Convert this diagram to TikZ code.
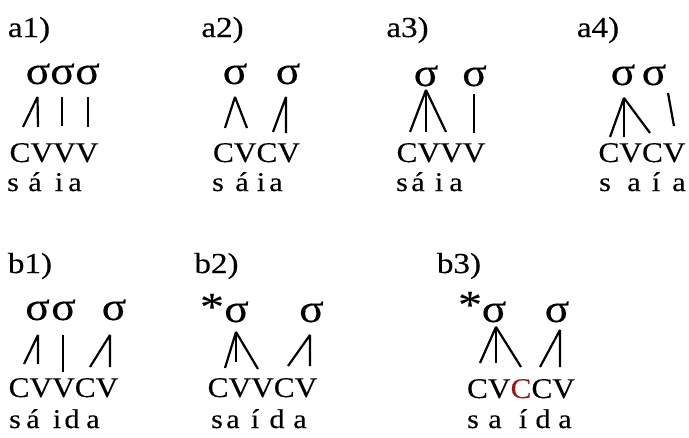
\documentclass[tikz,border=0pt]{standalone}
\usepackage{fontspec}
\setmainfont{Liberation Serif}[FakeBold=0.25]
\definecolor{segred}{RGB}{150,25,25}
\newcommand\hstr[2]{\scalebox{#1}[1]{#2}}
\tikzset{
  lab/.style={anchor=base,inner sep=0pt,font=\fontsize{29}{30}\selectfont},
  sig/.style={anchor=base,inner sep=0pt,font=\fontsize{40}{42}\selectfont},
  seg/.style={anchor=base,inner sep=0pt,font=\fontsize{28.5}{30}\selectfont},
  sa/.style={anchor=base,inner sep=0pt,font=\fontsize{27}{28}\selectfont},
  assoc/.style={line width=2.2pt,line join=bevel},
}
\begin{document}
\begin{tikzpicture}[x=1pt,y=-1pt]
\useasboundingbox (0,0) rectangle (689,437);
% ---------- labels
\node[lab] (la1) at (29,37) {\hstr{1.14}{a1)}};
\node[lab] (la2) at (222.5,37) {\hstr{1.14}{a2)}};
\node[lab] (la3) at (407.5,37) {\hstr{1.14}{a3)}};
\node[lab] (la4) at (598,37) {\hstr{1.14}{a4)}};
\node[lab] (lb1) at (30,273) {\hstr{1.14}{b1)}};
\node[lab] (lb2) at (216.5,273) {\hstr{1.14}{b2)}};
\node[lab] (lb3) at (459,273) {\hstr{1.14}{b3)}};
% ---------- sigmas
\node[sig] (a1s1) at (38,84) {\hstr{1.14}{σ}};
\node[sig] (a1s2) at (62.5,84) {\hstr{1.14}{σ}};
\node[sig] (a1s3) at (87.5,84) {\hstr{1.14}{σ}};
\node[sig] (a2s1) at (235,84) {\hstr{1.14}{σ}};
\node[sig] (a2s2) at (288,84) {\hstr{1.14}{σ}};
\node[sig] (a3s1) at (426,86) {\hstr{1.14}{σ}};
\node[sig] (a3s2) at (474.5,86) {\hstr{1.14}{σ}};
\node[sig] (a4s1) at (623,85) {\hstr{1.14}{σ}};
\node[sig] (a4s2) at (654,85) {\hstr{1.14}{σ}};
\node[sig] (b1s1) at (37.5,320) {\hstr{1.14}{σ}};
\node[sig] (b1s2) at (63.5,320) {\hstr{1.14}{σ}};
\node[sig] (b1s3) at (114,320) {\hstr{1.14}{σ}};
\node[sig] (b2s1) at (236.5,322) {\hstr{1.14}{σ}};
\node[sig] (b2s2) at (311.5,322) {\hstr{1.14}{σ}};
\node[sig] (b3s1) at (494,322) {\hstr{1.14}{σ}};
\node[sig] (b3s2) at (557,322) {\hstr{1.14}{σ}};
\node[sig] (b2ast) at (212,320) {\hstr{1.2}{*}};
\node[sig] (b3ast) at (470,318) {\hstr{1.2}{*}};
% ---------- segment strings
\node[seg] (a1cv) at (54,162) {\hstr{1.1}{CVVV}};
\node[seg] (a2cv) at (256.5,162) {\hstr{1.1}{CVCV}};
\node[seg] (a3cv) at (441,162) {\hstr{1.1}{CVVV}};
\node[seg] (a4cv) at (642,162) {\hstr{1.1}{CVCV}};
\node[seg] (b1cv) at (63.5,397) {\hstr{1.1}{CVVCV}};
\node[seg] (b2cv) at (262.5,397) {\hstr{1.1}{CVVCV}};
\node[seg] (b3cv) at (521,398) {\hstr{1.1}{CV\textcolor{segred}{C}CV}};
% ---------- spelled words
\foreach \x/\t [count=\i] in {13/s,35/á,59/i,75/a}
  \node[sa] (a1w\i) at (\x,191) {\hstr{1.12}{\t}};
\foreach \x/\t [count=\i] in {218/s,242/á,261/i,276/a}
  \node[sa] (a2w\i) at (\x,191) {\hstr{1.12}{\t}};
\foreach \x/\t [count=\i] in {402/s,418/á,439/i,456/a}
  \node[sa] (a3w\i) at (\x,191) {\hstr{1.12}{\t}};
\foreach \x/\t [count=\i] in {605/s,634/a,656/í,679/a}
  \node[sa] (a4w\i) at (\x,191) {\hstr{1.12}{\t}};
\foreach \x/\t [count=\i] in {15/s,33/á,57/i,72/d,93/a}
  \node[sa] (b1w\i) at (\x,428) {\hstr{1.12}{\t}};
\foreach \x/\t [count=\i] in {217/s,233/a,255/í,277/d,300/a}
  \node[sa] (b2w\i) at (\x,428) {\hstr{1.12}{\t}};
\foreach \x/\t [count=\i] in {473/s,495/a,523/í,543/d,565/a}
  \node[sa] (b3w\i) at (\x,428) {\hstr{1.12}{\t}};
% ---------- association line end points
% a1
\coordinate (a1t1) at (37.5,97); \coordinate (a1u1) at (23,127); \coordinate (a1u2) at (38,127);
\coordinate (a1t2) at (62,97);   \coordinate (a1u3) at (62,126);
\coordinate (a1t3) at (88,97);   \coordinate (a1u4) at (88,127);
% a2
\coordinate (a2t1) at (235,97);  \coordinate (a2u1) at (225,128); \coordinate (a2u2) at (247,128);
\coordinate (a2t2) at (286,97);  \coordinate (a2u3) at (273,132); \coordinate (a2u4) at (286,133);
% a3
\coordinate (a3t1) at (426,90);  \coordinate (a3u1) at (410,132); \coordinate (a3u2) at (426,132); \coordinate (a3u3) at (446,132);
\coordinate (a3t2) at (474,94);  \coordinate (a3u4) at (474,133);
% a4
\coordinate (a4t1) at (624,98);  \coordinate (a4u1) at (610,137); \coordinate (a4u2) at (624,137); \coordinate (a4u3) at (650,133);
\coordinate (a4t2) at (668,93);  \coordinate (a4u4) at (674,126);
% b1
\coordinate (b1t1) at (38,335);  \coordinate (b1u1) at (24,364); \coordinate (b1u2) at (38,364);
\coordinate (b1t2) at (63,335);  \coordinate (b1u3) at (63,372);
\coordinate (b1t3) at (110,335); \coordinate (b1u4) at (90,367); \coordinate (b1u5) at (110,367);
% b2
\coordinate (b2t1) at (236,332); \coordinate (b2u1) at (225,368); \coordinate (b2u2) at (236,362); \coordinate (b2u3) at (258,369);
\coordinate (b2t2) at (310,335); \coordinate (b2u4) at (288,366); \coordinate (b2u5) at (310,366);
% b3
\coordinate (b3t1) at (496,327); \coordinate (b3u1) at (480,363); \coordinate (b3u2) at (496,363); \coordinate (b3u3) at (521,367);
\coordinate (b3t2) at (560,330); \coordinate (b3u4) at (540,367); \coordinate (b3u5) at (560,367);
% ---------- association lines
\draw[assoc] (a1u1) -- (a1t1) -- (a1u2);
\draw[assoc] (a1t2) -- (a1u3);
\draw[assoc] (a1t3) -- (a1u4);
\draw[assoc] (a2u1) -- (a2t1) -- (a2u2);
\draw[assoc] (a2u3) -- (a2t2) -- (a2u4);
\draw[assoc] (a3u1) -- (a3t1) -- (a3u3);
\draw[assoc] (a3t1) -- (a3u2);
\draw[assoc] (a3t2) -- (a3u4);
\draw[assoc] (a4u1) -- (a4t1) -- (a4u3);
\draw[assoc] (a4t1) -- (a4u2);
\draw[assoc] (a4t2) -- (a4u4);
\draw[assoc] (b1u1) -- (b1t1) -- (b1u2);
\draw[assoc] (b1t2) -- (b1u3);
\draw[assoc] (b1u4) -- (b1t3) -- (b1u5);
\draw[assoc] (b2u1) -- (b2t1) -- (b2u3);
\draw[assoc] (b2t1) -- (b2u2);
\draw[assoc] (b2u4) -- (b2t2) -- (b2u5);
\draw[assoc] (b3u1) -- (b3t1) -- (b3u3);
\draw[assoc] (b3t1) -- (b3u2);
\draw[assoc] (b3u4) -- (b3t2) -- (b3u5);
\end{tikzpicture}
\end{document}
